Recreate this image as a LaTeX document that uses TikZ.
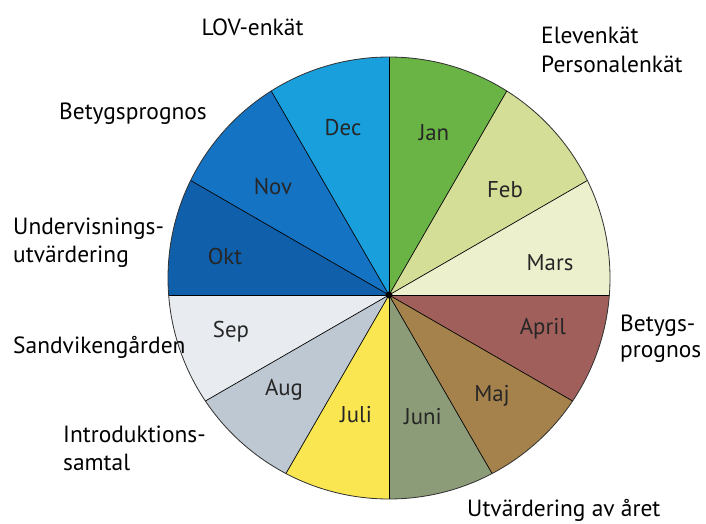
\documentclass[tikz,border=0pt]{standalone}
\usepackage{fontspec}
\setmainfont{PT Sans}
\usetikzlibrary{positioning}
\definecolor{janfill}{HTML}{6AB446}
\definecolor{febfill}{HTML}{D4DE96}
\definecolor{marsfill}{HTML}{ECF0CD}
\definecolor{aprilfill}{HTML}{A05F5A}
\definecolor{majfill}{HTML}{A5824B}
\definecolor{junifill}{HTML}{8C9B78}
\definecolor{julifill}{HTML}{FAE650}
\definecolor{augfill}{HTML}{BEC8D2}
\definecolor{sepfill}{HTML}{E8ECF0}
\definecolor{oktfill}{HTML}{0F5FAA}
\definecolor{novfill}{HTML}{1473C3}
\definecolor{decfill}{HTML}{19A0DC}
\tikzset{
    month/.style = {font = \fontsize{19.5}{22}\selectfont, text = black!85},
    event/.style = {
        font = \fontsize{20}{23.5}\selectfont,
        align = left, inner sep = 0pt, anchor = base west
    },
    spoke/.style = {draw = black, line width = 0.6pt}
}

\begin{document}
\begin{tikzpicture}[x = 0.03cm, y = 0.03cm]
    \useasboundingbox (0,0) rectangle (706,523);

    \coordinate (hub) at (389,228);
    \coordinate (mid) at (389,245);

    % sectors
    \begin{scope}
        \clip (mid) circle (221);
        \foreach \ang/\col [evaluate = \ang as \nxt using \ang+30] in
            {60/janfill, 30/febfill, 0/marsfill, -30/aprilfill, -60/majfill, -90/junifill,
             -120/julifill, -150/augfill, 180/sepfill, 150/oktfill, 120/novfill, 90/decfill}
            \fill[\col] (hub) -- ([shift = {(\ang:320)}]hub) -- ([shift = {(\nxt:320)}]hub) -- cycle;
        \foreach \ang in {0,30,...,330}
            \draw[spoke] (hub) -- ([shift = {(\ang:320)}]hub);
    \end{scope}
    \draw[line width = 0.7pt, black!80] (mid) circle (221);
    \fill (hub) circle (3.5);

    % months
    \node[month] (dec) at (343,395) {Dec};
    \node[month] (jan) at (434,390) {Jan};
    \node[month] (feb) at (505,333) {Feb};
    \node[month] (mars) at (550,260) {Mars};
    \node[month] (april) at (543,194) {April};
    \node[month] (maj) at (492,127) {Maj};
    \node[month] (juni) at (423,106) {Juni};
    \node[month] (juli) at (356,108) {Juli};
    \node[month] (aug) at (284,133) {Aug};
    \node[month] (sep) at (231,191) {Sep};
    \node[month] (okt) at (225,266) {Okt};
    \node[month] (nov) at (273,336) {Nov};

    % events (base = last line)
    \node[event, anchor = base] (lov) at (252.5,487) {LOV-enkät};
    \node[event, anchor = base] (prog1) at (133,403) {Betygsprognos};
    \node[event] (underv) at (13,261) {Undervisnings-\\utvärdering};
    \node[event, font = \fontsize{20}{25.5}\selectfont] (enkat) at (541,450) {Elevenkät\\Personalenkät};
    \node[event] (sandv) at (13,170) {Sandvikengården};
    \node[event] (intro) at (63,53) {Introduktions-\\samtal};
    \node[event, font = \fontsize{20}{21.5}\selectfont] (prog2) at (620,166) {Betygs-\\prognos};
    \node[event] (utv) at (467,6.5) {Utvärdering av året};

\end{tikzpicture}
\end{document}
